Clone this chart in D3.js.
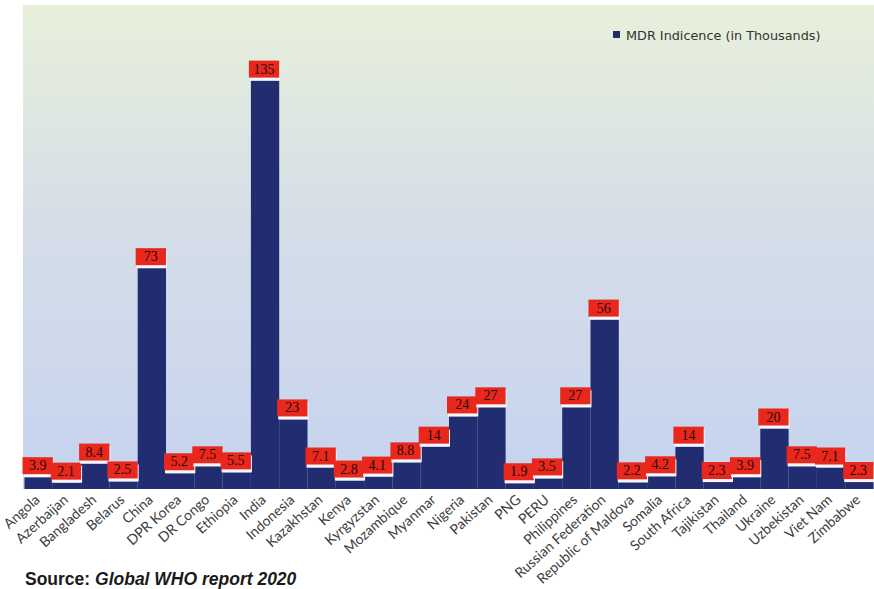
<!DOCTYPE html>
<html>
<head>
<meta charset="utf-8">
<script src="https://cdn.jsdelivr.net/npm/d3@7"></script>
<style>
  html, body { margin: 0; padding: 0; background: #ffffff; }
  svg { display: block; }
</style>
</head>
<body>
<svg id="chart" width="874" height="589"></svg>
<script>
// MDR-TB incidence by country (thousands)
const countries = [
  "Angola", "Azerbaijan", "Bangladesh", "Belarus", "China", "DPR Korea",
  "DR Congo", "Ethiopia", "India", "Indonesia", "Kazakhstan", "Kenya",
  "Kyrgyzstan", "Mozambique", "Myanmar", "Nigeria", "Pakistan", "PNG",
  "PERU", "Philippines", "Russian Federation", "Republic of Maldova",
  "Somalia", "South Africa", "Tajikistan", "Thailand", "Ukraine",
  "Uzbekistan", "Viet Nam", "Zimbabwe"
];
const incidence = [
  3.9, 2.1, 8.4, 2.5, 73, 5.2,
  7.5, 5.5, 135, 23, 7.1, 2.8,
  4.1, 8.8, 14, 24, 27, 1.9,
  3.5, 27, 56, 2.2,
  4.2, 14, 2.3, 3.9, 20,
  7.5, 7.1, 2.3
];
const valueLabels = [
  "3.9", "2.1", "8.4", "2.5", "73", "5.2",
  "7.5", "5.5", "135", "23", "7.1", "2.8",
  "4.1", "8.8", "14", "24", "27", "1.9",
  "3.5", "27", "56", "2.2",
  "4.2", "14", "2.3", "3.9", "20",
  "7.5", "7.1", "2.3"
];
const seriesName = "MDR Indicence (in Thousands)";
const yDomain = [0, 160];

const data = countries.map((c, i) => ({ country: c, value: incidence[i], label: valueLabels[i] }));

const svg = d3.select("#chart");
const plot = { left: 23, right: 874, top: 5, bottom: 489 };

const x = d3.scaleBand()
  .domain(countries)
  .range([24.5, 873.5])
  .padding(0);

const y = d3.scaleLinear()
  .domain(yDomain)
  .range([plot.bottom, plot.top]);

// plot area background gradient
const defs = svg.append("defs");
const grad = defs.append("linearGradient")
  .attr("id", "bg").attr("x1", 0).attr("y1", 0).attr("x2", 0).attr("y2", 1);
grad.append("stop").attr("offset", "0%").attr("stop-color", "#e8f0db");
grad.append("stop").attr("offset", "45%").attr("stop-color", "#d5dee8");
grad.append("stop").attr("offset", "100%").attr("stop-color", "#c6d3ef");

svg.append("rect")
  .attr("x", plot.left).attr("y", plot.top)
  .attr("width", plot.right - plot.left)
  .attr("height", plot.bottom - plot.top)
  .attr("fill", "url(#bg)");

// bars
svg.append("g")
  .selectAll("rect")
  .data(data)
  .join("rect")
  .attr("x", d => x(d.country))
  .attr("y", d => y(d.value))
  .attr("width", x.bandwidth())
  .attr("height", d => y(0) - y(d.value))
  .attr("fill", "#222c71");

// value labels: red boxes with a pale drop shadow
const boxH = 17;
const labels = svg.append("g")
  .selectAll("g")
  .data(data)
  .join("g")
  .attr("transform", d => `translate(${x(d.country) - 2},${y(d.value) - 3 - boxH})`);

labels.append("rect")
  .attr("x", 1).attr("y", 3)
  .attr("width", x.bandwidth() + 2).attr("height", boxH)
  .attr("fill", "#f4f6fb");

labels.append("rect")
  .attr("x", 0).attr("y", 0)
  .attr("width", x.bandwidth() + 2).attr("height", boxH)
  .attr("fill", "#e8281d");

labels.append("text")
  .attr("x", (x.bandwidth() + 2) / 2)
  .attr("y", boxH - 4)
  .attr("text-anchor", "middle")
  .attr("font-family", "Liberation Serif, serif")
  .attr("font-size", 14)
  .attr("fill", "#2a0707")
  .text(d => d.label);

// category axis
const xAxis = svg.append("g")
  .attr("transform", `translate(0,${plot.bottom})`)
  .call(d3.axisBottom(x).tickSize(0).tickPadding(0));
xAxis.select(".domain").remove();
xAxis.selectAll("text")
  .attr("font-family", "Lato, sans-serif")
  .attr("font-size", 14)
  .attr("fill", "#3d3d3d")
  .attr("text-anchor", "end")
  .attr("dy", 0)
  .attr("transform", "translate(2,12) rotate(-42)");

// legend
const legend = svg.append("g").attr("transform", "translate(613,31)");
legend.append("rect").attr("width", 7).attr("height", 7).attr("fill", "#222c71");
legend.append("text")
  .attr("x", 13).attr("y", 8.5)
  .attr("font-family", "DejaVu Sans, sans-serif")
  .attr("font-size", 12.8)
  .attr("fill", "#333")
  .text(seriesName);

// source note
const src = svg.append("text")
  .attr("x", 25).attr("y", 585)
  .attr("font-family", "Liberation Sans, Arial, sans-serif")
  .attr("font-size", 17.5)
  .attr("font-weight", "bold")
  .attr("fill", "#1a1a1a");
src.append("tspan").text("Source: ");
src.append("tspan").attr("font-style", "italic").text("Global WHO report 2020");
</script>
</body>
</html>
